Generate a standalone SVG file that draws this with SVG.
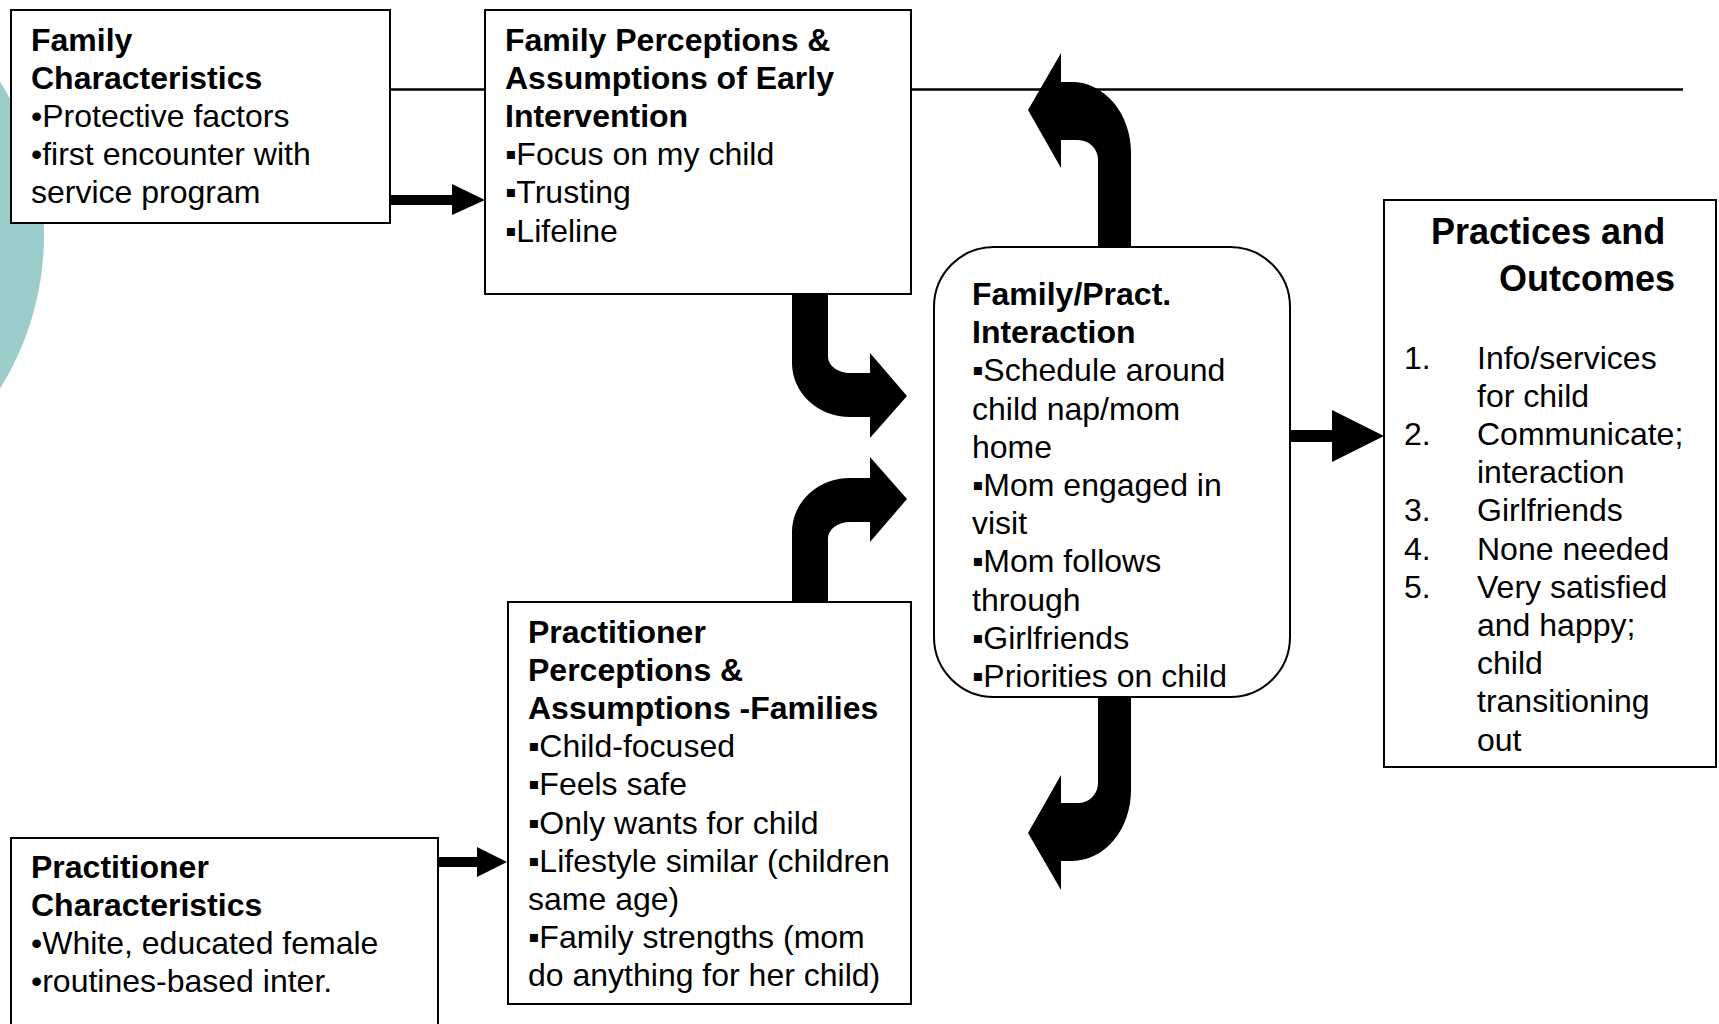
<svg xmlns="http://www.w3.org/2000/svg" width="1719" height="1024" viewBox="0 0 1719 1024">
<style>
.box{fill:#ffffff;stroke:#000000;stroke-width:2}
.t{font-family:"Liberation Sans",Arial,sans-serif;font-size:32px;fill:#000000}
.b{font-weight:bold}
.title{font-family:"Liberation Sans",Arial,sans-serif;font-size:36px;font-weight:bold;fill:#000000}
.arr{fill:#000000;stroke:none}
.ln{stroke:#000000;stroke-width:2.5;fill:none}
</style>
<rect width="1719" height="1024" fill="#ffffff"/>
<circle cx="-246" cy="235" r="290" fill="#9ccdcd"/>
<g id="connectors">
<line class="ln" x1="390" y1="89.5" x2="1683" y2="89.5"/>
<path class="arr" d="M390,195 L452,195 L452,184 L485,200 L452,215 L452,205 L390,205 Z"/>
<path class="arr" d="M437,857 L477,857 L477,847 L507,862 L477,877 L477,867 L437,867 Z"/>
<path class="arr" d="M1290,430 L1332,430 L1332,410 L1384,436 L1332,462 L1332,442 L1290,442 Z"/>
<path class="arr" d="M792,294 L792,363 A58,54 0 0 0 850,417 L870,417 L870,438 L907,396 L870,353 L870,373 L850,373 A22,16 0 0 1 828,357 L828,294 Z"/>
<path class="arr" d="M792,602 L792,532 A58,54 0 0 1 850,478 L870,478 L870,457 L907,499 L870,542 L870,522 L850,522 A22,16 0 0 0 828,538 L828,602 Z"/>
<path class="arr" d="M1098,248 L1098,160 A20,20 0 0 0 1078,140 L1061,140 L1061,168 L1028,110 L1061,53 L1061,82 L1072,82 A59,71 0 0 1 1131,153 L1131,248 Z"/>
<path class="arr" d="M1098,696 L1098,783 A20,20 0 0 1 1078,803 L1061,803 L1061,775 L1028,833 L1061,890 L1061,861 L1072,861 A59,71 0 0 0 1131,790 L1131,696 Z"/>
</g>
<g id="family-characteristics">
<rect class="box" x="11" y="10" width="379" height="213"/>
<text class="t"><tspan class="b" x="31" y="50.5">Family</tspan><tspan class="b" x="31" y="88.7">Characteristics</tspan><tspan x="31" y="126.9">•Protective factors</tspan><tspan x="31" y="165.1">•first encounter with</tspan><tspan x="31" y="203.3">service program</tspan></text>
</g>
<g id="family-perceptions">
<rect class="box" x="485" y="10" width="426" height="284"/>
<text class="t"><tspan class="b" x="505" y="50.5">Family Perceptions &amp;</tspan><tspan class="b" x="505" y="88.7">Assumptions of Early</tspan><tspan class="b" x="505" y="126.9">Intervention</tspan><tspan x="505" y="165.1">▪Focus on my child</tspan><tspan x="505" y="203.3">▪Trusting</tspan><tspan x="505" y="241.5">▪Lifeline</tspan></text>
</g>
<g id="interaction">
<rect class="box" x="934" y="247" width="356" height="450" rx="60" ry="60"/>
<text class="t"><tspan class="b" x="972" y="305">Family/Pract.</tspan><tspan class="b" x="972" y="343.2">Interaction</tspan><tspan x="972" y="381.4">▪Schedule around</tspan><tspan x="972" y="419.6">child nap/mom</tspan><tspan x="972" y="457.8">home</tspan><tspan x="972" y="496">▪Mom engaged in</tspan><tspan x="972" y="534.2">visit</tspan><tspan x="972" y="572.4">▪Mom follows</tspan><tspan x="972" y="610.6">through</tspan><tspan x="972" y="648.8">▪Girlfriends</tspan><tspan x="972" y="687">▪Priorities on child</tspan></text>
</g>
<g id="practices-outcomes">
<rect class="box" x="1384" y="200" width="332" height="567"/>
<text class="title" x="1431" y="244">Practices and</text>
<text class="title" x="1675" y="291" text-anchor="end">Outcomes</text>
<text class="t"><tspan x="1404" y="368.5">1.</tspan><tspan x="1404" y="444.9">2.</tspan><tspan x="1404" y="521.3">3.</tspan><tspan x="1404" y="559.5">4.</tspan><tspan x="1404" y="597.7">5.</tspan></text>
<text class="t"><tspan x="1477" y="368.5">Info/services</tspan><tspan x="1477" y="406.7">for child</tspan><tspan x="1477" y="444.9">Communicate;</tspan><tspan x="1477" y="483.1">interaction</tspan><tspan x="1477" y="521.3">Girlfriends</tspan><tspan x="1477" y="559.5">None needed</tspan><tspan x="1477" y="597.7">Very satisfied</tspan><tspan x="1477" y="635.9">and happy;</tspan><tspan x="1477" y="674.1">child</tspan><tspan x="1477" y="712.3">transitioning</tspan><tspan x="1477" y="750.5">out</tspan></text>
</g>
<g id="practitioner-perceptions">
<rect class="box" x="508" y="602" width="403" height="402"/>
<text class="t"><tspan class="b" x="528" y="642.5">Practitioner</tspan><tspan class="b" x="528" y="680.7">Perceptions &amp;</tspan><tspan class="b" x="528" y="718.9">Assumptions -Families</tspan><tspan x="528" y="757.1">▪Child-focused</tspan><tspan x="528" y="795.3">▪Feels safe</tspan><tspan x="528" y="833.5">▪Only wants for child</tspan><tspan x="528" y="871.7">▪Lifestyle similar (children</tspan><tspan x="528" y="909.9">same age)</tspan><tspan x="528" y="948.1">▪Family strengths (mom</tspan><tspan x="528" y="986.3">do anything for her child)</tspan></text>
</g>
<g id="practitioner-characteristics">
<rect class="box" x="11" y="838" width="427" height="200"/>
<text class="t"><tspan class="b" x="31" y="877.5">Practitioner</tspan><tspan class="b" x="31" y="915.7">Characteristics</tspan><tspan x="31" y="953.9">•White, educated female</tspan><tspan x="31" y="992.1">•routines-based inter.</tspan></text>
</g>
</svg>
